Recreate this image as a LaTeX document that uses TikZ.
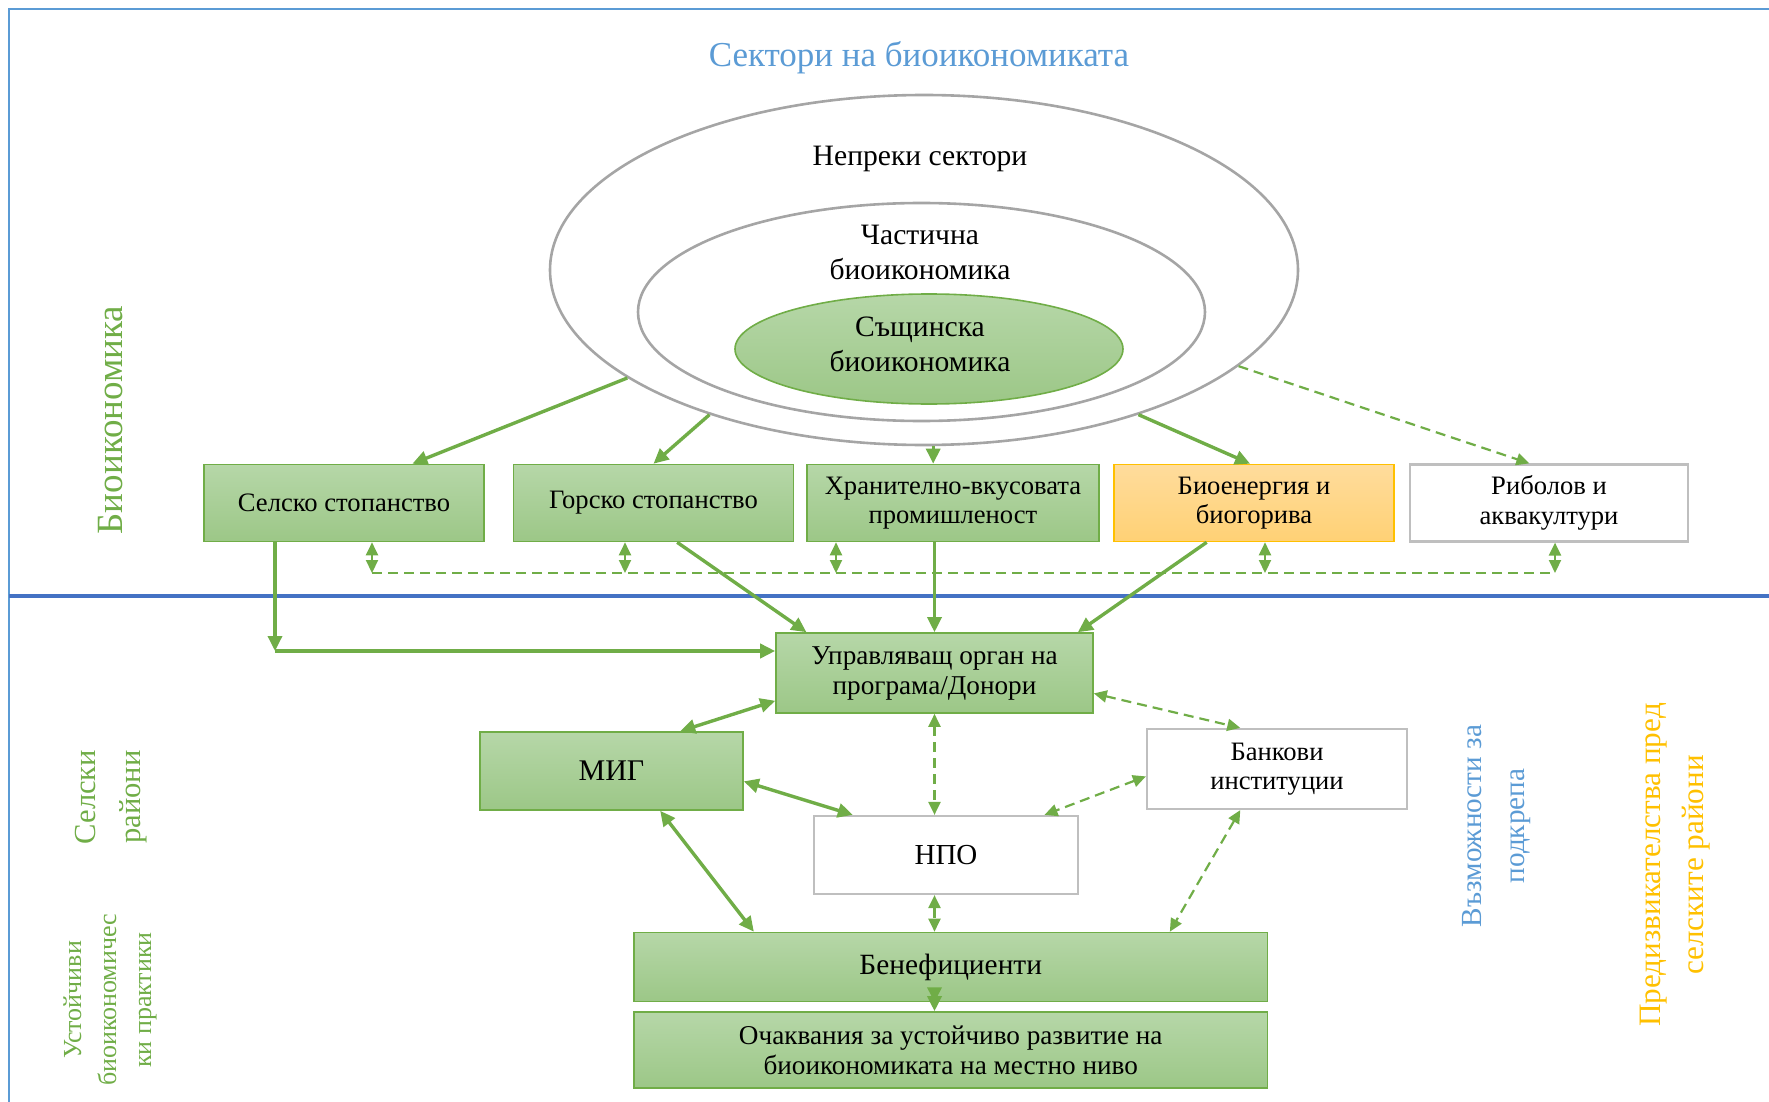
\documentclass[tikz,border=0pt]{standalone}
\usepackage{fontspec}
\setmainfont{Liberation Serif}
\usetikzlibrary{arrows.meta,shapes.geometric,calc}
\definecolor{grn}{HTML}{70AD47}
\definecolor{gtop}{HTML}{B6D7A8}
\definecolor{gbot}{HTML}{9CC787}
\definecolor{otop}{HTML}{FFDC9C}
\definecolor{obot}{HTML}{FFD175}
\definecolor{orng}{HTML}{FFC000}
\definecolor{lblue}{HTML}{5B9BD5}
\definecolor{dblue}{HTML}{4472C4}
\definecolor{ellg}{HTML}{A5A5A5}
\definecolor{boxg}{HTML}{BFBFBF}
\begin{document}
\begin{tikzpicture}[x=0.5pt,y=-0.5pt,
  txt/.style={font=\fontsize{13.3}{14.8}\selectfont, align=center, inner sep=0pt},
  greenbox/.style={txt, draw=grn, line width=0.8pt, top color=gtop, bottom color=gbot},
  orangebox/.style={txt, draw=orng, line width=0.8pt, top color=otop, bottom color=obot},
  whitebox/.style={txt, draw=boxg, line width=1.1pt, fill=white},
  ring/.style={ellipse, draw=ellg, line width=1.3pt, inner sep=0pt},
  arr/.style={draw=grn, line width=1.7pt, -{Triangle[length=7.5pt,width=7pt]}},
  darr/.style={draw=grn, line width=1.7pt, {Triangle[length=7.5pt,width=7pt]}-{Triangle[length=7.5pt,width=7pt]}},
  dsh/.style={draw=grn, line width=1.1pt, dash pattern=on 5pt off 3pt},
  dsharr/.style={dsh, -{Triangle[length=6.5pt,width=6pt]}},
  dshdarr/.style={dsh, {Triangle[length=6.5pt,width=6pt]}-{Triangle[length=6.5pt,width=6pt]}},
  side/.style={rotate=90, align=center, inner sep=0pt}
]
\useasboundingbox (0,0) rectangle (1769,1102);
% frame
\coordinate (fb) at (9,1102);
\coordinate (ftl) at (9,9);
\coordinate (ftr) at (1769,9);
\coordinate (dvl) at (9,596);
\coordinate (dvr) at (1769,596);
\draw[lblue, line width=1.1pt] (fb) -- (ftl) -- (ftr);
\draw[dblue, line width=1.6pt] (dvl) -- (dvr);

% title
\node[lblue, font=\fontsize{17.5}{20}\selectfont, inner sep=0pt] (title) at (919,58) {Сектори на биоикономиката};

% ellipses
\node[ring, minimum width=374pt, minimum height=175pt] (outer) at (924,270) {};
\node[ring, minimum width=283.5pt, minimum height=109pt] (mid) at (921.5,312) {};
\node[ellipse, draw=grn, line width=0.8pt, top color=gtop, bottom color=gbot, minimum width=194pt, minimum height=55pt, inner sep=0pt] (inner) at (929,349) {};
\node[txt, font=\fontsize{14.8}{17.5}\selectfont] (tnepr) at (920,159) {Непреки сектори};
\node[txt, font=\fontsize{14.8}{17.5}\selectfont] (tchast) at (920,252) {Частична\\биоикономика};
\node[txt, font=\fontsize{14.8}{17.5}\selectfont] (tsasht) at (920,344) {Същинска\\биоикономика};

% sector boxes
\node[greenbox, minimum width=140pt, minimum height=38.5pt] (selsko) at (344,503) {Селско стопанство};
\node[greenbox, minimum width=140pt, minimum height=38.5pt] (gorsko) at (653.5,503) {Горско стопанство};
\node[greenbox, minimum width=146pt, minimum height=38.5pt] (hran) at (953,503) {Хранително-вкусовата\\промишленост};
\node[orangebox, minimum width=140pt, minimum height=38.5pt] (bioen) at (1254,503) {Биоенергия и\\биогорива};
\node[whitebox, minimum width=139pt, minimum height=38.5pt] (ribo) at (1549,503) {Риболов и\\аквакултури};

% arrows from ellipse
\draw[arr] (outer.200) -- ($(selsko.north west)!0.743!(selsko.north east)$);
\draw[arr] (outer.214.6) -- ($(gorsko.north west)!0.5!(gorsko.north east)$);
\draw[arr] (outer.south -| hran.north west) ++(127,0) coordinate (hs) -- (hs |- hran.north);
\draw[arr] (outer.326.7) -- ($(bioen.north west)!0.486!(bioen.north east)$);
\draw[dsharr] (outer.343.4) -- ($(ribo.north west)!0.43!(ribo.north east)$);

% dashed connection row
\coordinate (d1) at (372,573);
\coordinate (d2) at (625,573);
\coordinate (d3) at (836,573);
\coordinate (d4) at (1265,573);
\coordinate (d5) at (1555,573);
\draw[dsh, line width=0.9pt] (d1) -- (d5);
\draw[dshdarr] (d1 |- selsko.south) -- (d1);
\draw[dshdarr] (d2 |- gorsko.south) -- (d2);
\draw[dshdarr] (d3 |- hran.south) -- (d3);
\draw[dshdarr] (d4 |- bioen.south) -- (d4);
\draw[dshdarr] (d5 |- ribo.south) -- (d5);

% lower boxes
\node[greenbox, minimum width=158.5pt, minimum height=40pt, font=\fontsize{13.6}{15}\selectfont] (upr) at (934.5,673) {Управляващ орган на\\програма/Донори};
\node[greenbox, minimum width=131.5pt, minimum height=39pt, font=\fontsize{15}{17}\selectfont] (mig) at (611.5,771) {МИГ};
\node[whitebox, minimum width=130pt, minimum height=40pt] (bank) at (1277,769) {Банкови\\институции};
\node[whitebox, minimum width=132pt, minimum height=39pt, font=\fontsize{14.5}{16}\selectfont] (npo) at (946,855) {НПО};
\node[greenbox, minimum width=316.75pt, minimum height=34.5pt, font=\fontsize{14.7}{16}\selectfont] (benef) at (950.75,967) {Бенефициенти};
\node[greenbox, minimum width=316.75pt, minimum height=38pt, font=\fontsize{13.6}{15}\selectfont] (ochak) at (950.75,1050) {Очаквания за устойчиво развитие на\\биоикономиката на местно ниво};

% sector boxes -> managing authority
\coordinate (corner) at (275,651);
\draw[arr] (corner |- selsko.south) -- (corner);
\draw[arr, line width=2.3pt] (corner) -- (upr.west |- corner);
\draw[arr] ($(gorsko.south west)!0.584!(gorsko.south east)$) -- ($(upr.north west)!0.098!(upr.north east)$);
\draw[arr] (upr.north |- hran.south) -- (upr.north);
\draw[arr] ($(bioen.south west)!0.332!(bioen.south east)$) -- ($(upr.north west)!0.95!(upr.north east)$);

% relations
\draw[darr] ($(upr.north west)!0.84!(upr.south west)$) -- ($(mig.north west)!0.76!(mig.north east)$);
\draw[dshdarr] ($(upr.north east)!0.75!(upr.south east)$) -- ($(bank.north west)!0.36!(bank.north east)$);
\draw[dshdarr] (upr.south) -- (upr.south |- npo.north);
\draw[darr] ($(mig.north east)!0.63!(mig.south east)$) -- ($(npo.north west)!0.15!(npo.north east)$);
\draw[dshdarr] ($(bank.north west)!0.59!(bank.south west)$) -- ($(npo.north west)!0.87!(npo.north east)$);
\draw[darr] ($(mig.south west)!0.684!(mig.south east)$) -- ($(benef.north west)!0.19!(benef.north east)$);
\draw[dshdarr] (upr.south |- npo.south) -- (upr.south |- benef.north);
\draw[dshdarr] ($(bank.south west)!0.36!(bank.south east)$) -- ($(benef.north west)!0.845!(benef.north east)$);
\draw[darr] (upr.south |- benef.south) -- (upr.south |- ochak.north);

% side labels
\node[side, grn, font=\fontsize{18.5}{20}\selectfont] (lbio) at (111,420) {Биоикономика};
\node[side, grn, font=\fontsize{15.3}{22.5}\selectfont] (lsel) at (111,797) {Селски\\райони};
\node[side, grn, font=\fontsize{13}{17.5}\selectfont] (lust) at (110,1000) {Устойчиви\\биоикономичес\\ки практики};
\node[side, lblue, font=\fontsize{14.6}{21.5}\selectfont] (lvaz) at (1497,826) {Възможности за\\подкрепа};
\node[side, orng, font=\fontsize{15.6}{21.5}\selectfont] (lpred) at (1675,865) {Предизвикателства пред\\селските райони};
\end{tikzpicture}
\end{document}
